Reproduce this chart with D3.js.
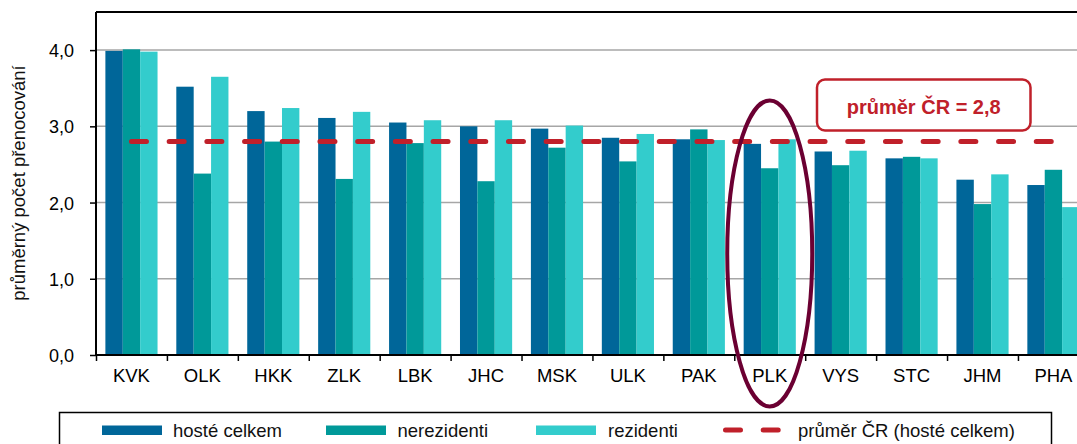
<!DOCTYPE html>
<head>
    <meta charset="utf-8">
    <script src="https://cdn.jsdelivr.net/npm/d3@7"></script>
    <style>
        body { margin: 0; background: #fff; overflow: hidden; }
        svg { display: block; font-family: Arial, "Liberation Sans", sans-serif; }
        .tick text { font-size: 18px; fill: #000; }
        .legend text { font-size: 18.5px; fill: #111; }
    </style>
</head>
<body>
<script>
    // data
    var categories = ["KVK", "OLK", "HKK", "ZLK", "LBK", "JHC", "MSK", "ULK", "PAK", "PLK", "VYS", "STC", "JHM", "PHA"];
    var hosteCelkem = [3.99, 3.52, 3.20, 3.11, 3.05, 3.00, 2.97, 2.85, 2.83, 2.77, 2.67, 2.58, 2.30, 2.23];
    var nerezidenti = [4.01, 2.38, 2.80, 2.31, 2.78, 2.28, 2.72, 2.54, 2.96, 2.45, 2.49, 2.60, 1.98, 2.43];
    var rezidenti   = [3.98, 3.65, 3.24, 3.19, 3.08, 3.08, 3.01, 2.90, 2.82, 2.83, 2.68, 2.58, 2.37, 1.94];
    var seriesNames = ["hosté celkem", "nerezidenti", "rezidenti"];
    var averageCR = 2.8;
    var averageLabel = "průměr ČR (hosté celkem)";
    var yTicks = [0, 1, 2, 3, 4];
    var highlighted = "PLK";

    var colors = ["#006699", "#009999", "#33CCCC"];
    var avgColor = "#C0202A";

    var width = 1077, height = 444;
    var plotLeft = 96, plotTop = 12, plotBottom = 355;
    var step = 70.92;

    var svg = d3.select("body").append("svg")
        .attr("width", width)
        .attr("height", height);

    var x = d3.scaleBand()
        .domain(categories)
        .range([plotLeft, plotLeft + step * categories.length])
        .paddingInner(0)
        .paddingOuter(0);

    var xSub = d3.scaleBand()
        .domain(seriesNames)
        .range([0, x.bandwidth()])
        .paddingOuter(0.54)
        .paddingInner(0);

    var y = d3.scaleLinear()
        .domain([0, 4.5])
        .range([plotBottom, plotTop]);

    // gridlines
    svg.append("g").selectAll("line")
        .data(yTicks.filter(function (d) { return d > 0; }))
        .enter().append("line")
        .attr("x1", plotLeft).attr("x2", width)
        .attr("y1", function (d) { return y(d); })
        .attr("y2", function (d) { return y(d); })
        .attr("stroke", "#a6a6a6")
        .attr("stroke-width", 1.5);

    // bars
    var series = [hosteCelkem, nerezidenti, rezidenti];
    var groups = svg.append("g").selectAll("g")
        .data(seriesNames)
        .enter().append("g")
        .attr("fill", function (d, i) { return colors[i]; });

    groups.selectAll("rect")
        .data(function (name, i) {
            return categories.map(function (c, j) { return { cat: c, name: name, value: series[i][j] }; });
        })
        .enter().append("rect")
        .attr("x", function (d) { return x(d.cat) + xSub(d.name); })
        .attr("width", xSub.bandwidth())
        .attr("y", function (d) { return y(d.value); })
        .attr("height", function (d) { return plotBottom - y(d.value); });

    // top frame line
    svg.append("line")
        .attr("x1", plotLeft).attr("x2", width)
        .attr("y1", plotTop).attr("y2", plotTop)
        .attr("stroke", "#000").attr("stroke-width", 2);

    // y axis
    var yAxis = d3.axisLeft(y)
        .tickValues(yTicks)
        .tickSize(6)
        .tickPadding(16)
        .tickFormat(function (d) { return d3.format(".1f")(d).replace(".", ","); });

    var gy = svg.append("g")
        .attr("transform", "translate(" + plotLeft + ",0)")
        .call(yAxis);
    gy.select(".domain").attr("stroke-width", 2).attr("d", "M0," + plotTop + "V" + plotBottom);
    gy.selectAll(".tick line").attr("stroke-width", 1.5);
    gy.selectAll(".tick text").attr("dy", "0.36em");

    // x axis: labels at band centres, ticks at band edges
    var xAxis = d3.axisBottom(x).tickSize(0).tickPadding(14);
    var gx = svg.append("g")
        .attr("transform", "translate(0," + plotBottom + ")")
        .call(xAxis);
    gx.select(".domain").attr("stroke-width", 2).attr("d", "M" + plotLeft + ",0H" + width);
    gx.selectAll(".tick text").style("font-size", "18.5px");

    var xEdges = d3.scaleLinear().domain([0, categories.length]).range(x.range());
    var gxe = svg.append("g")
        .attr("transform", "translate(0," + plotBottom + ")")
        .call(d3.axisBottom(xEdges).ticks(categories.length).tickSize(6).tickFormat(""));
    gxe.select(".domain").remove();
    gxe.selectAll(".tick line").attr("stroke-width", 1.5);

    // average line
    svg.append("line")
        .attr("x1", x(categories[0]) + x.bandwidth() / 2)
        .attr("x2", x(categories[categories.length - 1]) + x.bandwidth() / 2)
        .attr("y1", y(averageCR)).attr("y2", y(averageCR))
        .attr("stroke", avgColor)
        .attr("stroke-width", 5)
        .attr("stroke-linecap", "round")
        .attr("stroke-dasharray", "15 22.7");

    // y axis title
    svg.append("text")
        .attr("transform", "translate(25,183) rotate(-90)")
        .attr("text-anchor", "middle")
        .style("font-size", "18.5px")
        .attr("fill", "#111")
        .text("průměrný počet přenocování");

    // annotation box
    var note = svg.append("g");
    note.append("rect")
        .attr("x", 817).attr("y", 79.5)
        .attr("width", 213.5).attr("height", 51)
        .attr("rx", 8).attr("ry", 8)
        .attr("fill", "#fff")
        .attr("stroke", avgColor)
        .attr("stroke-width", 2.5);
    note.append("text")
        .attr("x", 923.7).attr("y", 113.5)
        .attr("text-anchor", "middle")
        .attr("fill", avgColor)
        .style("font-size", "20px")
        .style("font-weight", "bold")
        .text("průměr ČR = " + d3.format(".1f")(averageCR).replace(".", ","));

    // highlight ellipse
    svg.append("ellipse")
        .attr("cx", x(highlighted) + x.bandwidth() / 2)
        .attr("cy", 253.5)
        .attr("rx", 42.5)
        .attr("ry", 153)
        .attr("fill", "none")
        .attr("stroke", "#6B0032")
        .attr("stroke-width", 4);

    // legend
    var legend = svg.append("g").attr("class", "legend");
    legend.append("rect")
        .attr("x", 59.5).attr("y", 412.5)
        .attr("width", 992).attr("height", 50)
        .attr("fill", "#fff")
        .attr("stroke", "#000")
        .attr("stroke-width", 1.5);

    var swatchX = [102, 326, 536];
    var textX = [173, 397.5, 608];
    seriesNames.forEach(function (name, i) {
        legend.append("rect")
            .attr("x", swatchX[i]).attr("y", 425.5)
            .attr("width", 60).attr("height", 9.5)
            .attr("fill", colors[i]);
        legend.append("text")
            .attr("x", textX[i]).attr("y", 436.5)
            .text(name);
    });
    legend.append("line")
        .attr("x1", 725.5).attr("x2", 780)
        .attr("y1", 430).attr("y2", 430)
        .attr("stroke", avgColor)
        .attr("stroke-width", 5)
        .attr("stroke-linecap", "round")
        .attr("stroke-dasharray", "15 22.7");
    legend.append("text")
        .attr("x", 798).attr("y", 436.5)
        .text(averageLabel);
</script>
</body>
